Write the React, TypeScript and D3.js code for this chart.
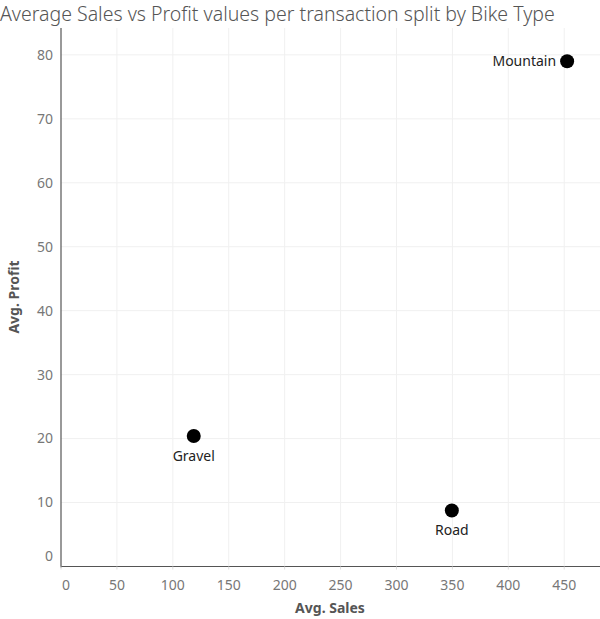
import { useEffect, useRef } from 'react';
import * as d3 from 'd3';

const bikeTypes = ['Mountain', 'Gravel', 'Road'];
const avgSales = [452.6, 118.7, 349.5];
const avgProfit = [79.0, 20.4, 8.75];
const xTicks = [0, 50, 100, 150, 200, 250, 300, 350, 400, 450];
const yTicks = [0, 10, 20, 30, 40, 50, 60, 70, 80];

const WIDTH = 600;
const HEIGHT = 619;
const FONT = '"Noto Sans", "Open Sans", sans-serif';

export default function App() {
  const svgRef = useRef<SVGSVGElement>(null);

  useEffect(() => {
    if (!svgRef.current) return;
    const svg = d3.select(svgRef.current);
    svg.selectAll('*').remove();

    const left = 61;
    const right = 600;
    const top = 28;
    const bottom = 566.5;

    const x = d3.scaleLinear().domain([0, 482]).range([left, right]);
    const y = d3.scaleLinear().domain([0, 84.2]).range([bottom, top]);

    // Title
    svg.append('text')
      .attr('x', 0).attr('y', 21)
      .attr('font-size', '19.5px').attr('font-family', FONT)
      .attr('font-weight', 300)
      .attr('fill', '#555')
      .text('Average Sales vs Profit values per transaction split by Bike Type');

    // Gridlines
    svg.append('g').selectAll('line').data(xTicks.slice(1)).join('line')
      .attr('x1', d => x(d)).attr('x2', d => x(d))
      .attr('y1', top).attr('y2', bottom)
      .attr('stroke', '#f0f0f0').attr('stroke-width', 1);
    svg.append('g').selectAll('line').data(yTicks.slice(1)).join('line')
      .attr('x1', left).attr('x2', right)
      .attr('y1', d => y(d)).attr('y2', d => y(d))
      .attr('stroke', '#f0f0f0').attr('stroke-width', 1);

    // Axis lines
    svg.append('line').attr('x1', left).attr('x2', left).attr('y1', top).attr('y2', bottom + 1)
      .attr('stroke', '#555').attr('stroke-width', 1.2);
    svg.append('line').attr('x1', left).attr('x2', right).attr('y1', bottom).attr('y2', bottom)
      .attr('stroke', '#555').attr('stroke-width', 1.2);

    // X ticks
    svg.append('g').selectAll('line').data(xTicks).join('line')
      .attr('x1', d => x(d)).attr('x2', d => x(d))
      .attr('y1', bottom).attr('y2', bottom + 3)
      .attr('stroke', '#ddd');
    svg.append('g').selectAll('text').data(xTicks).join('text')
      .attr('x', d => (d === 0 ? x(d) + 5 : x(d)))
      .attr('y', 590)
      .attr('text-anchor', 'middle')
      .attr('font-size', '14px').attr('font-family', FONT)
      .attr('fill', '#777')
      .text(d => d);

    // Y ticks
    svg.append('g').selectAll('text').data(yTicks).join('text')
      .attr('x', 53)
      .attr('y', d => (d === 0 ? y(d) - 10 : y(d)))
      .attr('dy', '0.35em')
      .attr('text-anchor', 'end')
      .attr('font-size', '14px').attr('font-family', FONT)
      .attr('fill', '#777')
      .text(d => d);

    // Axis titles
    svg.append('text')
      .attr('x', 330).attr('y', 613)
      .attr('text-anchor', 'middle')
      .attr('font-size', '14px').attr('font-family', FONT)
      .attr('font-weight', 700)
      .attr('fill', '#555')
      .text('Avg. Sales');
    svg.append('text')
      .attr('transform', `translate(19, 297) rotate(-90)`)
      .attr('text-anchor', 'middle')
      .attr('font-size', '14px').attr('font-family', FONT)
      .attr('font-weight', 700)
      .attr('fill', '#555')
      .text('Avg. Profit');

    // Points
    const data = bikeTypes.map((name, i) => ({ name, sales: avgSales[i], profit: avgProfit[i] }));
    svg.append('g').selectAll('circle').data(data).join('circle')
      .attr('cx', d => x(d.sales)).attr('cy', d => y(d.profit))
      .attr('r', 7)
      .attr('fill', '#000');

    // Labels
    svg.append('g').selectAll('text').data(data).join('text')
      .attr('x', d => (d.name === 'Mountain' ? x(d.sales) - 11 : x(d.sales)))
      .attr('y', d => (d.name === 'Mountain' ? y(d.profit) : y(d.profit) + 20))
      .attr('dy', '0.35em')
      .attr('text-anchor', d => (d.name === 'Mountain' ? 'end' : 'middle'))
      .attr('font-size', '14px').attr('font-family', FONT)
      .attr('fill', '#222')
      .text(d => d.name);
  }, []);

  return (
    <svg
      ref={svgRef}
      width={WIDTH}
      height={HEIGHT}
      style={{ position: 'absolute', left: 0, top: 0, background: '#fff' }}
    />
  );
}
